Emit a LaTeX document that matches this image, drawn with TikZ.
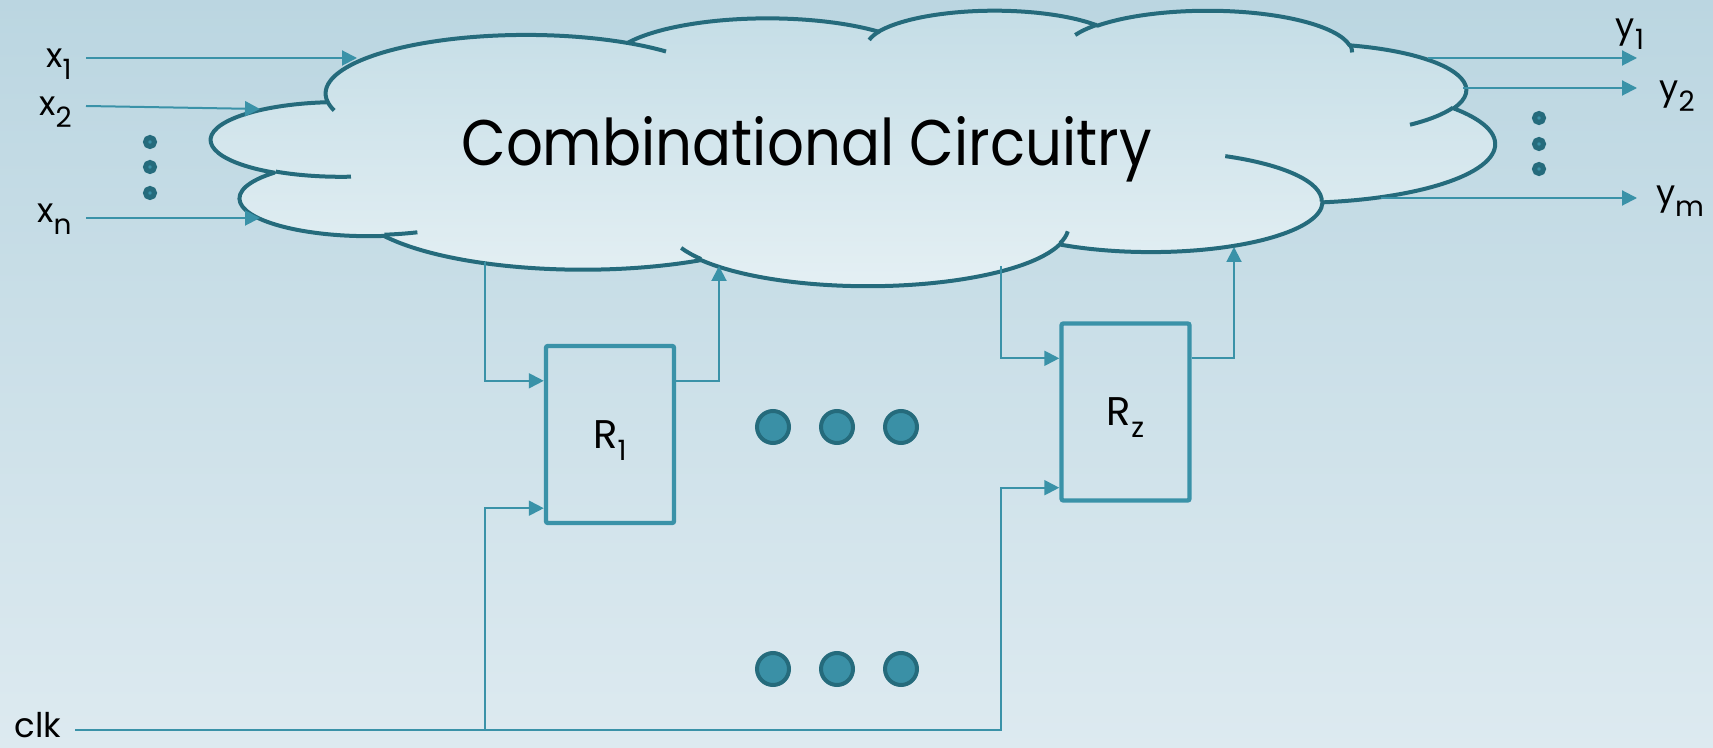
\documentclass[tikz,border=0pt]{standalone}
\usepackage{fontspec}
\setmainfont{Poppins}
\usepackage{graphicx}
\usetikzlibrary{arrows.meta}
\definecolor{bgtop}{RGB}{187,214,225}
\definecolor{bgbot}{RGB}{221,234,240}
\definecolor{cldtop}{RGB}{196,221,230}
\definecolor{cldbot}{RGB}{229,240,244}
\definecolor{edgec}{RGB}{37,107,124}
\definecolor{wirec}{RGB}{58,146,168}
\definecolor{dotc}{RGB}{58,144,166}
\newcommand\lsub[1]{\smash{\raisebox{-6pt}{\fontsize{14}{16}\selectfont #1}}}
% one lobe of the cloud: wR, hR, start, sweep (visual angles)
\newcommand\cloudlobe[4]{\pgfextra{%
    \pgfmathsetmacro\las{atan2((#1)*sin(#3),(#2)*cos(#3))}%
    \pgfmathsetmacro\lae{atan2((#1)*sin((#3)+(#4)),(#2)*cos((#3)+(#4)))}%
    \pgfmathsetmacro\lae{\lae<\las ? \lae+360 : \lae}}%
  arc[start angle=\las, end angle=\lae, x radius=#1, y radius=#2]}
\tikzset{
  lbl/.style   ={font=\fontsize{17}{20}\selectfont, inner xsep=7pt,
                 inner ysep=0pt, text depth=0pt},
  sig/.style   ={-{Triangle[length=7.5pt, width=7.5pt]}, line width=1pt,
                 draw=wirec},
  reg/.style   ={draw=wirec, line width=2.2pt, rounded corners=1pt,
                 minimum width=64pt, minimum height=88.5pt,
                 font=\fontsize{20}{24}\selectfont},
  cldline/.style={draw=edgec, line width=2pt, line join=round},
  sdot/.style  ={draw=edgec, fill=dotc, line width=2.5pt},
  bdot/.style  ={draw=edgec, fill=dotc, line width=2pt},
}
\begin{document}
\begin{tikzpicture}[x=0.5pt, y=-0.5pt]
  \useasboundingbox (0,0) rectangle (1713,748);
  \shade[top color=bgtop, bottom color=bgbot] (0,0) rectangle (1713,748);
  % cloud, on a 432 x 432 grid
  \begin{scope}[shift={(211.6,9.8)}, x=1.485pt, y=-0.31875pt]
    \draw[cldline, top color=cldtop, bottom color=cldbot] (39.00,143.70)
      \cloudlobe{67.53}{91.90}{-190.4875}{123.7805}
      \cloudlobe{53.33}{72.67}{-144.1024}{89.9452}
      \cloudlobe{43.65}{59.45}{-145.8079}{99.7230}
      \cloudlobe{48.57}{65.95}{-130.9861}{117.2417}
      \cloudlobe{53.33}{72.73}{-78.7089}{109.0269}
      \cloudlobe{67.75}{92.20}{-46.2673}{130.2690}
      \cloudlobe{57.85}{78.67}{0.6250}{114.0333}
      \cloudlobe{67.52}{92.15}{22.4516}{115.1726}
      \cloudlobe{77.20}{105.43}{66.2426}{75.7110}
      \cloudlobe{43.60}{59.18}{-274.9421}{146.7483}
      \cloudlobe{43.45}{59.45}{-246.8285}{152.5189} -- cycle;
    % inner hooks
    \draw[cldline]
      (46.93,261.77) \cloudlobe{43.45}{59.45}{86.7420}{26.4295}
      (69.28,348.99) \cloudlobe{43.60}{59.18}{73.6105}{11.4475}
      (164.78,390.90) \cloudlobe{67.52}{92.15}{137.6242}{14.0811}
      (288.27,347.51) \cloudlobe{67.52}{92.15}{6.4533}{15.9984}
      (341.29,229.54) \cloudlobe{57.85}{78.67}{-70.2924}{70.9174}
      (417.98,153.54) \cloudlobe{53.33}{72.73}{30.3180}{27.7515}
      (383.24,54.26) \cloudlobe{48.57}{65.95}{-13.7443}{14.8589}
      (290.78,39.52) \cloudlobe{48.57}{65.95}{-149.1815}{18.1954}
      (221.41,47.20) \cloudlobe{43.65}{59.45}{-163.4943}{17.6864}
      (140.00,51.92) \cloudlobe{67.53}{91.90}{-66.7070}{12.3194}
      (41.27,157.89) \cloudlobe{67.53}{91.90}{157.6544}{11.8582};
  \end{scope}
  \node[anchor=base west, inner sep=0pt] (title) at (461,166)
    {\resizebox{345pt}{24.5pt}{Combinational Circuitry}};

  % ports on the cloud
  \coordinate (cin1)  at (357,58);
  \coordinate (cin2)  at (260,109);
  \coordinate (cinn)  at (260,218);
  \coordinate (cout1) at (1428,58);
  \coordinate (cout2) at (1463,88);
  \coordinate (coutm) at (1381,198);
  \coordinate (ytip)  at (1637,0);
  \coordinate (cfb1)  at (485,262);
  \coordinate (cret1) at (719,266);
  \coordinate (cfbz)  at (1001,266);
  \coordinate (cretz) at (1234,247);
  \coordinate (clkA)  at (485,730);
  \coordinate (clkB)  at (1001,730);

  % inputs and outputs
  \node[lbl, anchor=east] (x1) at (86,58)  {x\lsub{1}};
  \node[lbl, anchor=east] (x2) at (86,106) {x\lsub{2}};
  \node[lbl, anchor=east] (xn) at (86,213) {x\lsub{n}};
  \node[lbl] (y1) at (1630,28)  {y\lsub{1}};
  \node[lbl] (y2) at (1677,90)  {y\lsub{2}};
  \node[lbl] (ym) at (1680,195) {y\lsub{m}};
  \draw[sig] (x1.east) -- (cin1);
  \draw[sig] (x2.east) -- (cin2);
  \draw[sig] (xn.east |- cinn) -- (cinn);
  \draw[sig] (cout1) -- (cout1 -| ytip);
  \draw[sig] (cout2) -- (cout2 -| ytip);
  \draw[sig] (coutm) -- (coutm -| ytip);
  \foreach \y in {142,167,193} \draw[sdot] (150,\y) circle[radius=2.25pt];
  \foreach \y in {118,144,169} \draw[sdot] (1539,\y) circle[radius=2.25pt];

  % registers
  \node[reg] (R1) at (610,434.5) {R\lsub{1}};
  \node[reg] (Rz) at (1125.5,412) {R\lsub{z}};
  \draw[sig] (cfb1) |- ([yshift=-18.5pt]R1.north west);
  \draw[sig] ([yshift=-18.5pt]R1.north east) -| (cret1);
  \draw[sig] (cfbz) |- ([yshift=-18.5pt]Rz.north west);
  \draw[sig] ([yshift=-18.5pt]Rz.north east) -| (cretz);
  \foreach \x in {773,837,901} {
    \draw[bdot] (\x,427) circle[radius=8pt];
    \draw[bdot] (\x,669) circle[radius=8pt];
  }

  % clock
  \node[lbl, anchor=base west] (clk) at (0,737) {clk};
  \draw[sig] (clk.east |- clkA) -- (clkB) |- ([yshift=7.5pt]Rz.south west);
  \draw[sig] (clkA) |- ([yshift=8.5pt]R1.south west);
\end{tikzpicture}
\end{document}
